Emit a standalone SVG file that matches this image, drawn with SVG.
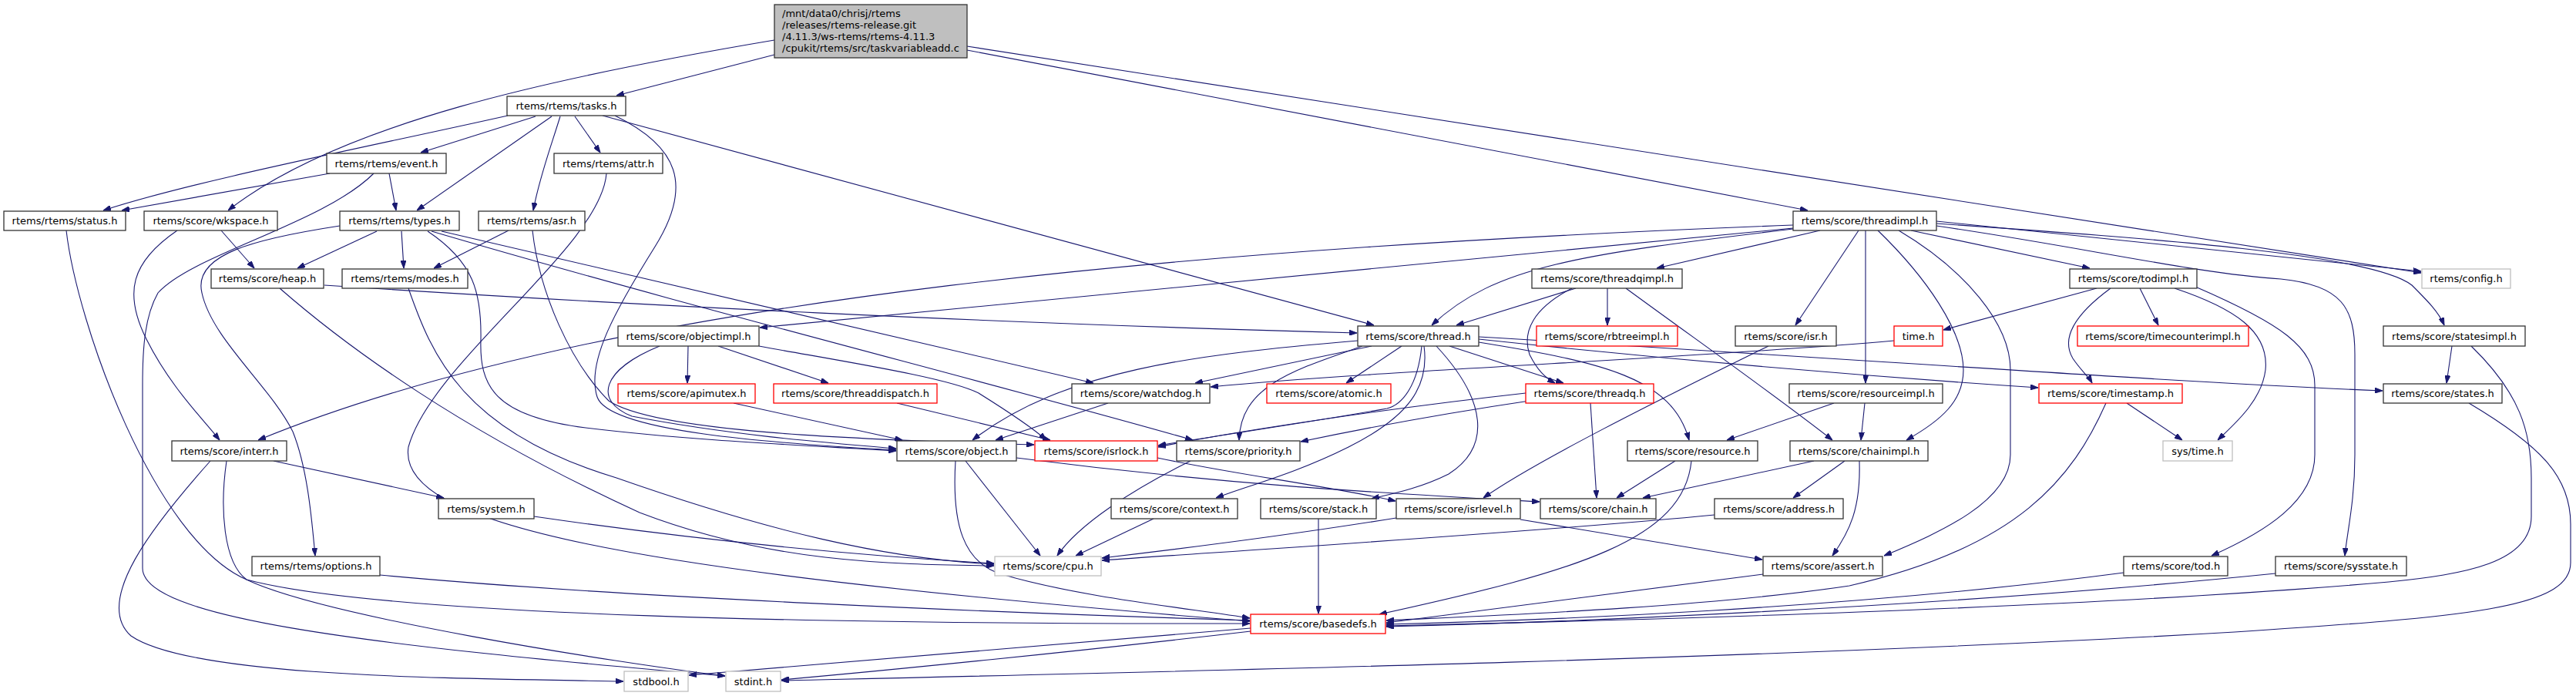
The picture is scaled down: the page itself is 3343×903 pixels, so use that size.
<svg xmlns="http://www.w3.org/2000/svg" width="3343" height="903" viewBox="0 0 3343 903">
<style>
.n rect{fill:#fff;stroke:#333;stroke-width:1.3}
.r rect{fill:#fff;stroke:#ff0000;stroke-width:1.3}
.g rect{fill:#fff;stroke:#bfbfbf;stroke-width:1.3}
.top rect{fill:#bfbfbf;stroke:#333;stroke-width:1.3}
text{font-family:"DejaVu Sans","Liberation Sans",sans-serif;font-size:13px;fill:#000}
.c{text-anchor:middle}
#edges path{fill:none;stroke:#191970;stroke-width:1.1;marker-end:url(#a)}
</style>
<defs>
<marker id="a" markerWidth="10" markerHeight="7" refX="10" refY="3.5" orient="auto" markerUnits="userSpaceOnUse"><path d="M0,0 L10,3.5 L0,7 z" fill="#191970" stroke="#191970" stroke-width="1"/></marker>
</defs>
<rect width="3343" height="903" fill="#fff"/>
<g id="edges">
<path d="M1005,71 L800,124"/>
<path d="M1005,52 C720,100 440,160 296,273"/>
<path d="M1255,65 L2346,273"/>
<path d="M1255,60 L3142,354"/>
<path d="M659,150 C480,190 250,235 134,273"/>
<path d="M695,151 L546,198"/>
<path d="M716,151 L541,273"/>
<path d="M727,151 C715,190 700,230 692,273"/>
<path d="M746,151 L779,198"/>
<path d="M782,150 L1783,422"/>
<path d="M798,150 C880,190 900,240 850,320 C800,400 760,470 775,515 C790,560 1000,575 1163,584"/>
<path d="M428,225 L158,273"/>
<path d="M505,225 L514,273"/>
<path d="M485,225 C420,290 250,330 205,380 C188,410 185,450 185,500 L185,737 C185,800 450,835 941,877"/>
<path d="M489,300 L386,348"/>
<path d="M521,300 L524,348"/>
<path d="M441,293 C330,310 250,330 262,380 C275,440 350,500 380,560 C400,610 405,680 409,721"/>
<path d="M555,300 C615,340 625,380 624,440 C622,500 640,540 760,555 C900,572 1050,578 1163,585"/>
<path d="M573,300 L1419,497"/>
<path d="M560,300 C900,400 1300,500 1548,571"/>
<path d="M287,299 L330,348"/>
<path d="M230,299 C170,340 160,380 190,440 C220,500 260,540 285,571"/>
<path d="M660,299 L563,348"/>
<path d="M691,299 C700,380 740,470 790,520 C850,560 1100,570 1342,577"/>
<path d="M787,225 C780,320 560,470 530,580 C515,680 800,740 1622,806"/>
<path d="M86,299 C100,420 200,700 320,752 C500,800 1100,810 1622,809"/>
<path d="M421,370 C800,395 1300,420 1761,432"/>
<path d="M363,374 C450,450 600,560 830,665 C1000,730 1150,732 1290,734"/>
<path d="M530,374 C560,460 600,560 800,620 C1000,690 1150,725 1290,732"/>
<path d="M2327,292 C1600,320 800,380 335,571"/>
<path d="M2327,296 L986,425"/>
<path d="M2327,297 C2050,330 1940,345 1858,422"/>
<path d="M2362,299 L2150,348"/>
<path d="M2412,299 L2330,422"/>
<path d="M2421,299 L2421,497"/>
<path d="M2437,299 C2500,360 2548,430 2548,480 C2548,520 2520,545 2474,571"/>
<path d="M2464,299 C2550,350 2609,420 2609,480 L2609,590 C2609,650 2520,690 2445,721"/>
<path d="M2480,299 L2712,348"/>
<path d="M2513,287 L3142,352"/>
<path d="M2513,290 C2800,310 3080,330 3130,370 C3150,390 3165,405 3172,422"/>
<path d="M2513,293 C2700,320 2850,355 2960,362 C3040,370 3056,400 3056,460 L3056,590 C3056,650 3046,690 3043,721"/>
<path d="M2045,374 L1890,422"/>
<path d="M2040,374 C1990,400 1975,430 1985,460 C1995,480 2005,490 2018,497"/>
<path d="M2086,374 L2086,422"/>
<path d="M2110,374 C2200,440 2300,510 2378,571"/>
<path d="M2721,374 L2522,428"/>
<path d="M2777,374 L2801,422"/>
<path d="M2739,374 C2690,410 2675,440 2690,465 C2700,480 2710,488 2715,497"/>
<path d="M2822,374 C2900,400 2945,430 2940,480 C2935,520 2900,550 2878,571"/>
<path d="M2849,372 C2960,420 3004,450 3004,500 L3004,590 C3004,650 2940,690 2870,721"/>
<path d="M856,449 C780,480 770,520 820,540 C950,565 1080,575 1163,582"/>
<path d="M893,449 L892,497"/>
<path d="M932,449 L1075,497"/>
<path d="M985,449 C1100,470 1230,490 1270,510 C1310,535 1340,555 1358,571"/>
<path d="M1780,449 L1551,497"/>
<path d="M1762,442 C1550,460 1380,480 1262,571"/>
<path d="M1845,449 C1840,500 1820,525 1800,530 C1700,548 1580,565 1503,578"/>
<path d="M1768,449 C1680,480 1610,500 1608,571"/>
<path d="M1819,449 L1747,497"/>
<path d="M1881,449 L2029,497"/>
<path d="M1919,444 C2080,470 2170,490 2192,571"/>
<path d="M1848,449 C1855,500 1830,540 1750,580 C1680,615 1620,630 1578,646"/>
<path d="M1864,449 C1930,520 1935,580 1880,615 C1840,635 1800,642 1780,647"/>
<path d="M1919,440 C2200,470 2450,490 2645,503"/>
<path d="M1919,437 C2400,465 2800,495 3092,507"/>
<path d="M2458,442 C2200,465 1800,480 1571,502"/>
<path d="M2064,523 L2072,646"/>
<path d="M1980,510 C1800,530 1600,560 1503,580"/>
<path d="M1985,520 C1850,540 1750,560 1688,573"/>
<path d="M2295,449 C2150,520 1990,600 1925,646"/>
<path d="M2380,523 L2241,571"/>
<path d="M2420,523 L2415,571"/>
<path d="M2760,523 L2832,571"/>
<path d="M2733,523 C2690,620 2620,710 2400,760 C2200,790 1900,800 1799,805"/>
<path d="M3204,523 C3300,580 3336,620 3336,680 L3336,730 C3336,790 3200,800 2900,820 C2300,855 1500,872 1014,883"/>
<path d="M3182,449 L3175,497"/>
<path d="M3207,449 C3270,510 3285,560 3285,620 L3285,670 C3285,730 3200,745 3100,755 C2700,790 2100,805 1799,812"/>
<path d="M355,598 L576,646"/>
<path d="M273,598 C200,680 120,780 170,825 C250,880 600,880 809,884"/>
<path d="M294,598 C285,660 290,730 320,752 C420,800 800,860 941,877"/>
<path d="M1253,598 L1350,721"/>
<path d="M1240,598 C1235,680 1250,730 1300,745 C1400,775 1550,790 1622,802"/>
<path d="M1319,594 C1600,630 1800,640 1998,651"/>
<path d="M1502,594 C1600,615 1720,630 1811,650"/>
<path d="M1545,598 C1470,635 1400,680 1372,721"/>
<path d="M2174,598 L2098,646"/>
<path d="M2195,598 C2185,700 2050,740 1790,797"/>
<path d="M2354,598 L2132,646"/>
<path d="M2394,598 L2327,646"/>
<path d="M2413,598 C2415,660 2400,690 2378,721"/>
<path d="M693,670 C900,700 1100,720 1290,731"/>
<path d="M1497,673 L1396,721"/>
<path d="M1711,673 L1711,796"/>
<path d="M1812,672 C1700,690 1550,710 1430,724"/>
<path d="M1973,674 L2287,726"/>
<path d="M2225,668 C2000,690 1600,715 1430,727"/>
<path d="M2288,745 L1799,808"/>
<path d="M493,746 C800,775 1300,795 1622,805"/>
<path d="M2756,743 C2400,790 2000,805 1799,810"/>
<path d="M2953,744 C2500,790 2000,808 1799,813"/>
<path d="M1623,815 C1300,840 1000,865 894,876"/>
<path d="M1623,819 C1400,845 1150,870 1014,882"/>
<path d="M952,523 L1171,571"/>
<path d="M1164,523 L1363,571"/>
<path d="M1438,523 L1292,571"/>
</g>
<g id="n_top" class="top"><rect x="1005" y="6" width="250" height="69"/>
<text x="1015" y="22">/mnt/data0/chrisj/rtems</text>
<text x="1015" y="37">/releases/rtems-release.git</text>
<text x="1015" y="52">/4.11.3/ws-rtems/rtems-4.11.3</text>
<text x="1015" y="67">/cpukit/rtems/src/taskvariableadd.c</text></g>
<g id="n_tasks" class="n"><rect x="658" y="125" width="154" height="25"/><text class="c" x="735" y="142">rtems/rtems/tasks.h</text></g>
<g id="n_event" class="n"><rect x="424" y="199" width="155" height="26"/><text class="c" x="501.5" y="216.5">rtems/rtems/event.h</text></g>
<g id="n_attr" class="n"><rect x="719" y="199" width="141" height="26"/><text class="c" x="789.5" y="216.5">rtems/rtems/attr.h</text></g>
<g id="n_status" class="n"><rect x="5" y="274" width="158" height="25"/><text class="c" x="84" y="291">rtems/rtems/status.h</text></g>
<g id="n_wkspace" class="n"><rect x="187" y="274" width="173" height="25"/><text class="c" x="273.5" y="291">rtems/score/wkspace.h</text></g>
<g id="n_types" class="n"><rect x="441" y="274" width="155" height="25"/><text class="c" x="518.5" y="291">rtems/rtems/types.h</text></g>
<g id="n_asr" class="n"><rect x="621" y="274" width="138" height="25"/><text class="c" x="690" y="291">rtems/rtems/asr.h</text></g>
<g id="n_threadimpl" class="n"><rect x="2327" y="274" width="186" height="25"/><text class="c" x="2420" y="291">rtems/score/threadimpl.h</text></g>
<g id="n_heap" class="n"><rect x="274" y="349" width="146" height="25"/><text class="c" x="347" y="366">rtems/score/heap.h</text></g>
<g id="n_modes" class="n"><rect x="444" y="349" width="163" height="25"/><text class="c" x="525.5" y="366">rtems/rtems/modes.h</text></g>
<g id="n_threadqimpl" class="n"><rect x="1988" y="349" width="195" height="25"/><text class="c" x="2085.5" y="366">rtems/score/threadqimpl.h</text></g>
<g id="n_todimpl" class="n"><rect x="2686" y="349" width="165" height="25"/><text class="c" x="2768.5" y="366">rtems/score/todimpl.h</text></g>
<g id="n_config" class="g"><rect x="3143" y="349" width="115" height="25"/><text class="c" x="3200.5" y="366">rtems/config.h</text></g>
<g id="n_objectimpl" class="n"><rect x="802" y="423" width="183" height="26"/><text class="c" x="893.5" y="440.5">rtems/score/objectimpl.h</text></g>
<g id="n_thread" class="n"><rect x="1762" y="423" width="157" height="26"/><text class="c" x="1840.5" y="440.5">rtems/score/thread.h</text></g>
<g id="n_rbtreeimpl" class="r"><rect x="1994" y="423" width="183" height="26"/><text class="c" x="2085.5" y="440.5">rtems/score/rbtreeimpl.h</text></g>
<g id="n_isr" class="n"><rect x="2252" y="423" width="131" height="26"/><text class="c" x="2317.5" y="440.5">rtems/score/isr.h</text></g>
<g id="n_time" class="r"><rect x="2458" y="423" width="63" height="26"/><text class="c" x="2489.5" y="440.5">time.h</text></g>
<g id="n_timecounterimpl" class="r"><rect x="2696" y="423" width="222" height="26"/><text class="c" x="2807" y="440.5">rtems/score/timecounterimpl.h</text></g>
<g id="n_statesimpl" class="n"><rect x="3093" y="423" width="184" height="26"/><text class="c" x="3185" y="440.5">rtems/score/statesimpl.h</text></g>
<g id="n_apimutex" class="r"><rect x="802" y="498" width="178" height="25"/><text class="c" x="891" y="515">rtems/score/apimutex.h</text></g>
<g id="n_threaddispatch" class="r"><rect x="1004" y="498" width="212" height="25"/><text class="c" x="1110" y="515">rtems/score/threaddispatch.h</text></g>
<g id="n_watchdog" class="n"><rect x="1391" y="498" width="179" height="25"/><text class="c" x="1480.5" y="515">rtems/score/watchdog.h</text></g>
<g id="n_atomic" class="r"><rect x="1644" y="498" width="161" height="25"/><text class="c" x="1724.5" y="515">rtems/score/atomic.h</text></g>
<g id="n_threadq" class="r"><rect x="1980" y="498" width="166" height="25"/><text class="c" x="2063" y="515">rtems/score/threadq.h</text></g>
<g id="n_resourceimpl" class="n"><rect x="2322" y="498" width="199" height="25"/><text class="c" x="2421.5" y="515">rtems/score/resourceimpl.h</text></g>
<g id="n_timestamp" class="r"><rect x="2646" y="498" width="186" height="25"/><text class="c" x="2739" y="515">rtems/score/timestamp.h</text></g>
<g id="n_states" class="n"><rect x="3093" y="498" width="154" height="25"/><text class="c" x="3170" y="515">rtems/score/states.h</text></g>
<g id="n_interr" class="n"><rect x="223" y="572" width="149" height="26"/><text class="c" x="297.5" y="589.5">rtems/score/interr.h</text></g>
<g id="n_object" class="n"><rect x="1164" y="572" width="155" height="26"/><text class="c" x="1241.5" y="589.5">rtems/score/object.h</text></g>
<g id="n_isrlock" class="r"><rect x="1343" y="572" width="159" height="26"/><text class="c" x="1422.5" y="589.5">rtems/score/isrlock.h</text></g>
<g id="n_priority" class="n"><rect x="1527" y="572" width="160" height="26"/><text class="c" x="1607" y="589.5">rtems/score/priority.h</text></g>
<g id="n_resource" class="n"><rect x="2112" y="572" width="169" height="26"/><text class="c" x="2196.5" y="589.5">rtems/score/resource.h</text></g>
<g id="n_chainimpl" class="n"><rect x="2323" y="572" width="179" height="26"/><text class="c" x="2412.5" y="589.5">rtems/score/chainimpl.h</text></g>
<g id="n_systime" class="g"><rect x="2807" y="572" width="90" height="26"/><text class="c" x="2852" y="589.5">sys/time.h</text></g>
<g id="n_system" class="n"><rect x="569" y="647" width="124" height="26"/><text class="c" x="631" y="664.5">rtems/system.h</text></g>
<g id="n_context" class="n"><rect x="1442" y="647" width="164" height="26"/><text class="c" x="1524" y="664.5">rtems/score/context.h</text></g>
<g id="n_stack" class="n"><rect x="1636" y="647" width="150" height="26"/><text class="c" x="1711" y="664.5">rtems/score/stack.h</text></g>
<g id="n_isrlevel" class="n"><rect x="1812" y="647" width="161" height="26"/><text class="c" x="1892.5" y="664.5">rtems/score/isrlevel.h</text></g>
<g id="n_chain" class="n"><rect x="1999" y="647" width="150" height="26"/><text class="c" x="2074" y="664.5">rtems/score/chain.h</text></g>
<g id="n_address" class="n"><rect x="2225" y="647" width="167" height="26"/><text class="c" x="2308.5" y="664.5">rtems/score/address.h</text></g>
<g id="n_options" class="n"><rect x="327" y="722" width="166" height="25"/><text class="c" x="410" y="739">rtems/rtems/options.h</text></g>
<g id="n_cpu" class="g"><rect x="1291" y="722" width="138" height="25"/><text class="c" x="1360" y="739">rtems/score/cpu.h</text></g>
<g id="n_assert" class="n"><rect x="2288" y="722" width="155" height="25"/><text class="c" x="2365.5" y="739">rtems/score/assert.h</text></g>
<g id="n_tod" class="n"><rect x="2756" y="722" width="135" height="25"/><text class="c" x="2823.5" y="739">rtems/score/tod.h</text></g>
<g id="n_sysstate" class="n"><rect x="2953" y="722" width="170" height="25"/><text class="c" x="3038" y="739">rtems/score/sysstate.h</text></g>
<g id="n_basedefs" class="r"><rect x="1623" y="797" width="175" height="25"/><text class="c" x="1710.5" y="814">rtems/score/basedefs.h</text></g>
<g id="n_stdbool" class="g"><rect x="810" y="871" width="83" height="26"/><text class="c" x="851.5" y="888.5">stdbool.h</text></g>
<g id="n_stdint" class="g"><rect x="942" y="871" width="71" height="26"/><text class="c" x="977.5" y="888.5">stdint.h</text></g>
</svg>
